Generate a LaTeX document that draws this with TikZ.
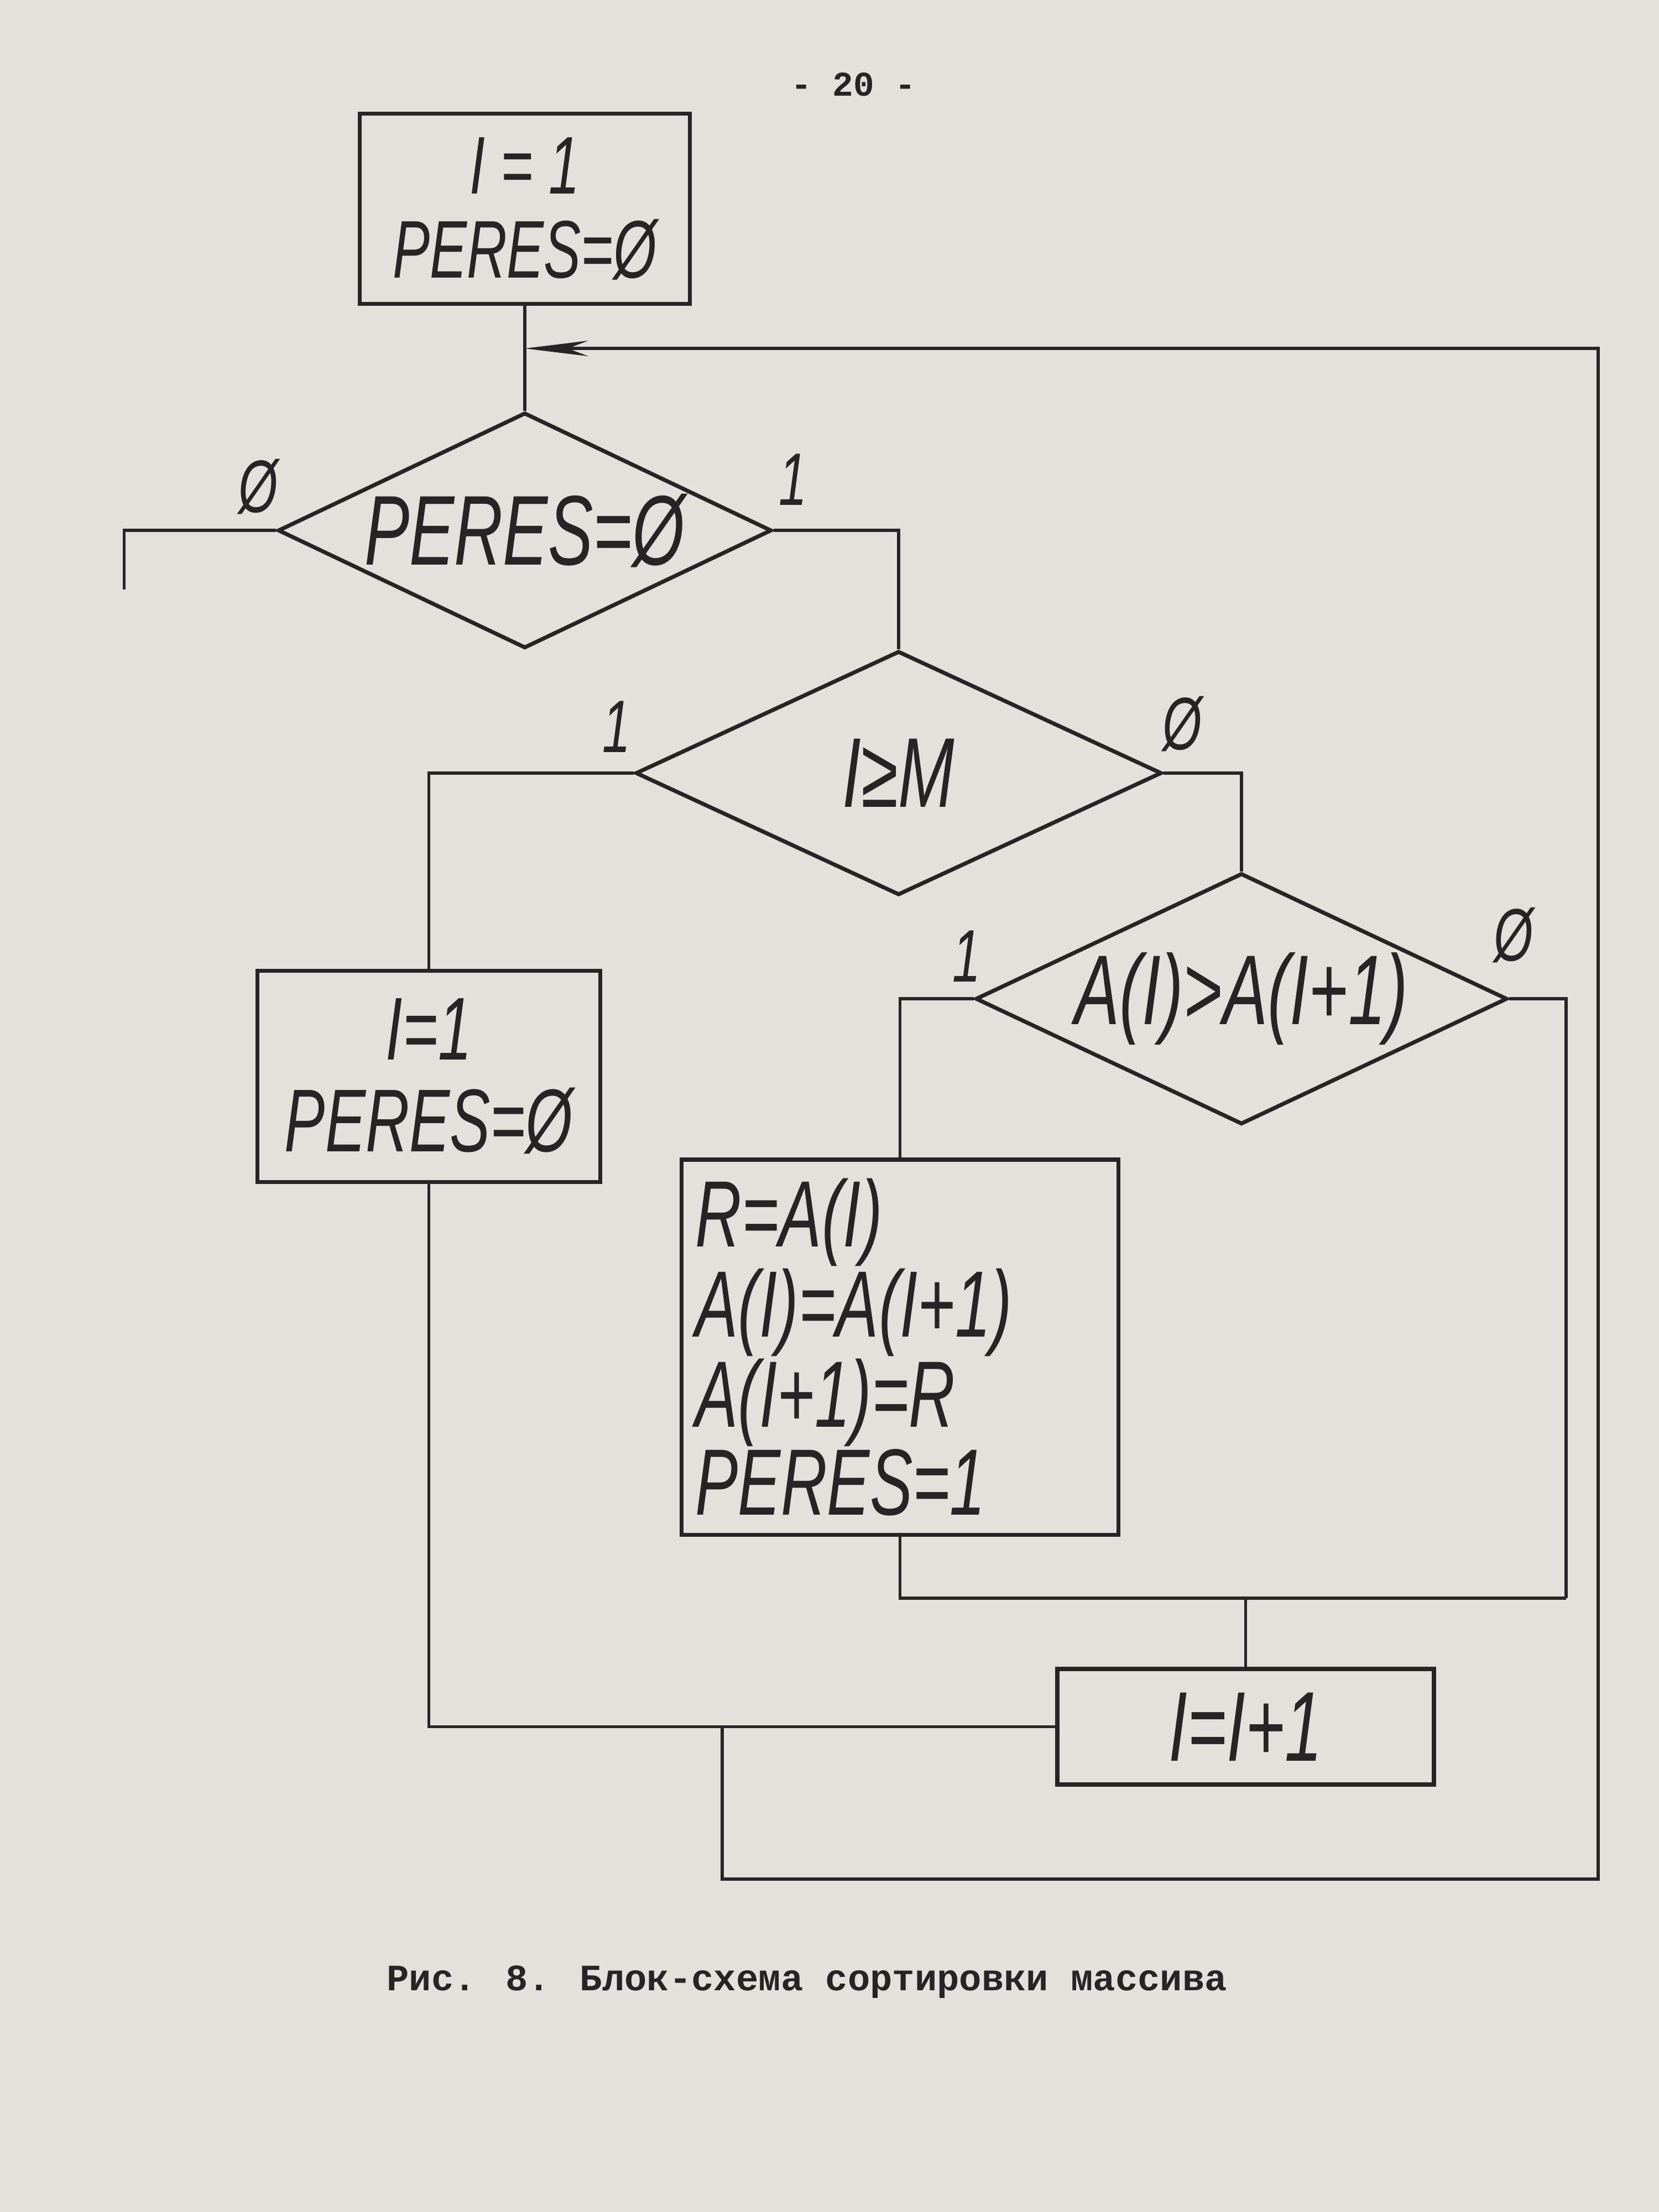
\documentclass[tikz,border=0pt]{standalone}
\usepackage{fontspec}
\usetikzlibrary{shapes.geometric,arrows.meta}

\newfontfamily\hand[FakeStretch=0.68]{Liberation Sans}
\newfontfamily\typew{Liberation Mono}
\definecolor{paper}{RGB}{227,225,220}
\definecolor{ink}{RGB}{38,36,36}
\newcommand{\nowidth}[1]{\makebox[0pt]{#1}}

\tikzset{
  blk/.style={draw=ink, line width=1.6pt, rectangle, inner sep=0pt, text=ink},
  dec/.style={draw=ink, line width=1.6pt, diamond, inner sep=0pt, text=ink,
    font=\hand\itshape\fontsize{40}{40}\selectfont},
  lbl/.style={font=\hand\itshape\fontsize{30}{30}\selectfont, text=ink, inner sep=0pt},
  conn/.style={draw=ink, line width=1.3pt}
}

\begin{document}
\begin{tikzpicture}[x=0.02cm, y=-0.02cm, >={Stealth[length=9mm,width=2.2mm]}]
  % Paper
  \fill[paper] (0,0) rectangle (1176,1568);

  % Page number
  \node[font=\typew\bfseries\fontsize{14}{14}\selectfont, text=ink] (page) at (605,60) {- 20 -};

  % Blocks
  \node[blk, minimum width=4.68cm, minimum height=2.7cm, align=center,
    font=\hand\itshape\fontsize{33}{34}\selectfont] (init) at (372,148) {I = 1\\PERES=Ø};
  \node[dec, minimum width=7cm, minimum height=3.34cm] (peres) at (372,376) {\nowidth{PERES=Ø}};
  \node[dec, minimum width=7.46cm, minimum height=3.46cm] (cmp) at (637,548) {\nowidth{I≥M}};
  \node[dec, minimum width=7.54cm, minimum height=3.56cm] (swapq) at (880,708) {\nowidth{A(I)>A(I+1)}};
  \node[blk, minimum width=4.86cm, minimum height=3cm, align=center,
    font=\hand\itshape\fontsize{36}{37}\selectfont] (reset) at (304,763) {I=1\\PERES=Ø};
  \node[blk, minimum width=6.2cm, minimum height=5.32cm, text width=5.8cm, align=left,
    font=\hand\itshape\fontsize{38}{34}\selectfont] (swap) at (638,955)
    {R=A(I)\\A(I)=A(I+1)\\A(I+1)=R\\PERES=1};
  \node[blk, minimum width=5.34cm, minimum height=1.64cm,
    font=\hand\itshape\fontsize{40}{40}\selectfont] (inc) at (883,1224) {I=I+1};

  % Branch labels
  \node[lbl] (p0) at (183,345) {Ø};
  \node[lbl] (p1) at (562,340) {1};
  \node[lbl] (c1) at (437,515) {1};
  \node[lbl] (c0) at (838,513) {Ø};
  \node[lbl] (s1) at (685,678) {1};
  \node[lbl] (s0) at (1073,663) {Ø};

  % Free ends and junctions
  \coordinate (join) at (372,247);
  \coordinate (exit0) at (88,418);
  \coordinate (mergeR) at (1110,1133);
  \coordinate (merge) at (inc.north |- mergeR);
  \coordinate (back) at (512,1224);
  \coordinate (loopR) at (1133,1332);

  % Connectors
  \draw[conn] (init.south) -- (peres.north);
  \draw[conn] (peres.west) -| (exit0);
  \draw[conn] (peres.east) -| (cmp.north);
  \draw[conn] (cmp.west) -| (reset.north);
  \draw[conn] (cmp.east) -| (swapq.north);
  \draw[conn] (swapq.west) -| (swap.north);
  \draw[conn] (swapq.east) -| (mergeR);
  \draw[conn] (swap.south) |- (mergeR);
  \draw[conn] (merge) -- (inc.north);
  \draw[conn] (reset.south) |- (inc.west);
  % Loop back
  \draw[conn,->] (back) |- (loopR) |- (join);

  % Caption
  \node[font=\typew\bfseries\fontsize{15}{15}\selectfont, text=ink] (caption) at (572,1405)
    {Рис. 8. Блок-схема сортировки массива};
\end{tikzpicture}
\end{document}
